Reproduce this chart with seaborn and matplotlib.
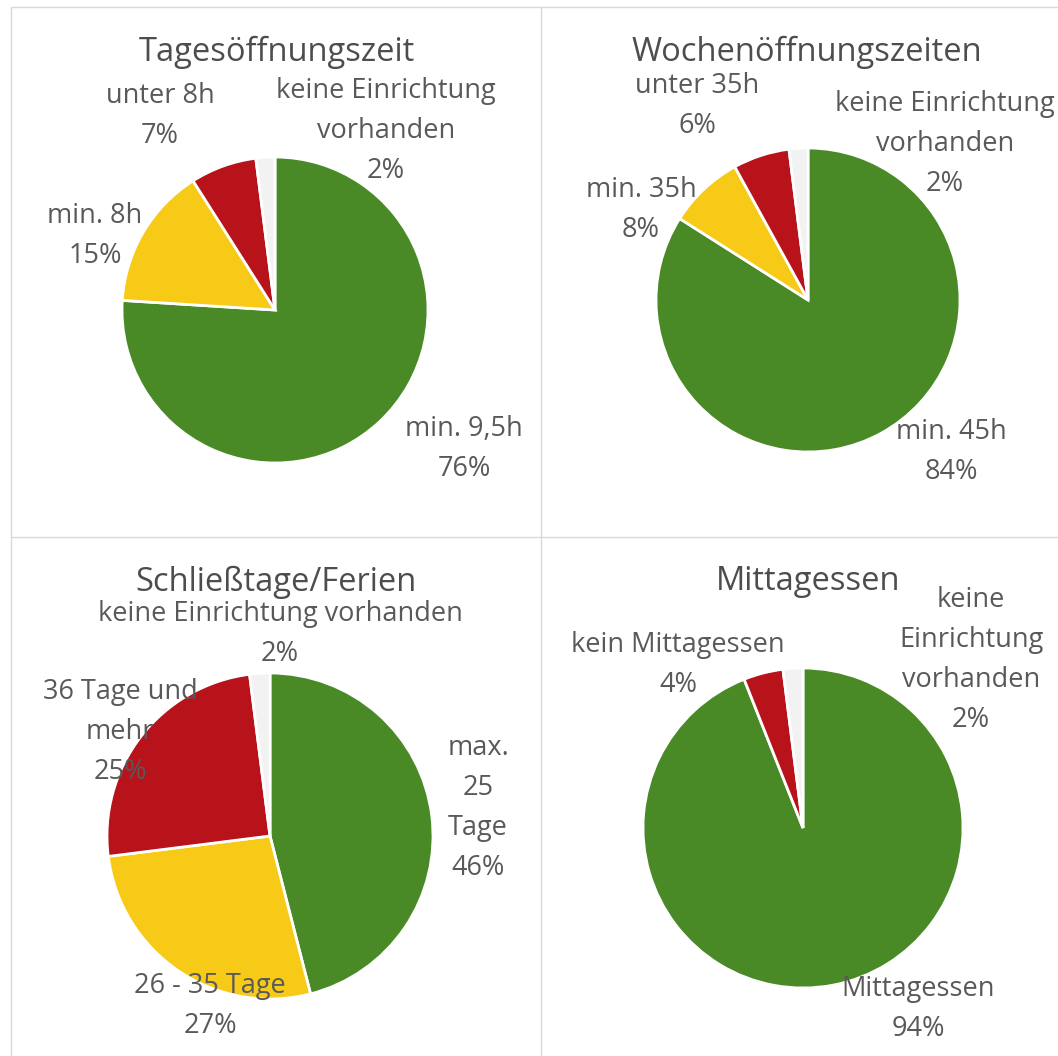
import matplotlib.pyplot as plt
import seaborn as sns

sns.set_theme(style="white")
plt.rcParams['font.family'] = ['Open Sans', 'DejaVu Sans']

# --- data ---
titles = ['Tagesöffnungszeit', 'Wochenöffnungszeiten', 'Schließtage/Ferien', 'Mittagessen']

tages_labels = ['min. 9,5h', 'min. 8h', 'unter 8h', 'keine Einrichtung\nvorhanden']
tages_values = [76, 15, 7, 2]

wochen_labels = ['min. 45h', 'min. 35h', 'unter 35h', 'keine Einrichtung\nvorhanden']
wochen_values = [84, 8, 6, 2]

schliess_labels = ['max.\n25\nTage', '26 - 35 Tage', '36 Tage und\nmehr', 'keine Einrichtung vorhanden']
schliess_values = [46, 27, 25, 2]

essen_labels = ['Mittagessen', 'kein Mittagessen', 'keine\nEinrichtung\nvorhanden']
essen_values = [94, 4, 2]

GREEN, YELLOW, RED, GREY = '#4A8A26', '#F6CA16', '#B8121B', '#F2F2F2'
TEXT = '#595959'

# --- layout (pixel positions, y measured from top) ---
W, H = 1058, 1056
panels = [
    dict(labels=tages_labels, values=tages_values, colors=[GREEN, YELLOW, RED, GREY],
         center=(275, 310), r=153, title=(277, 52),
         label_pos=[(464, 449), (95, 236), (160, 116), (386, 131)]),
    dict(labels=wochen_labels, values=wochen_values, colors=[GREEN, YELLOW, RED, GREY],
         center=(808, 300), r=152, title=(807, 52),
         label_pos=[(951, 452), (641, 210), (697, 106), (945, 144)]),
    dict(labels=schliess_labels, values=schliess_values, colors=[GREEN, YELLOW, RED, GREY],
         center=(270, 836), r=163, title=(276, 582),
         label_pos=[(478, 808), (210, 1006), (120, 732), (280, 634)]),
    dict(labels=essen_labels, values=essen_values, colors=[GREEN, RED, GREY],
         center=(803, 828), r=160, title=(808, 582),
         label_pos=[(918, 1009), (678, 665), (971, 660)]),
]

fig = plt.figure(figsize=(W / 100, H / 100), dpi=100)
ax = fig.add_axes([0, 0, 1, 1])

# panel borders
border = '#D9D9D9'
ax.plot([11, 11], [0, H - 7], color=border, lw=1)
ax.plot([541, 541], [0, H - 7], color=border, lw=1)
ax.plot([11, W], [H - 7, H - 7], color=border, lw=1)
ax.plot([11, W], [H - 537, H - 537], color=border, lw=1)

for title, p in zip(titles, panels):
    cx, cy = p['center']
    ax.pie(p['values'], colors=p['colors'], startangle=90, counterclock=False,
           center=(cx, H - cy), radius=p['r'], frame=True,
           wedgeprops=dict(edgecolor='white', linewidth=2))
    tx, ty = p['title']
    ax.text(tx, H - ty, title, ha='center', va='center', fontsize=23.5,
            color='#4D4D4D')
    for lab, val, (lx, ly) in zip(p['labels'], p['values'], p['label_pos']):
        ax.text(lx, H - ly, f'{lab}\n{val}%', ha='center', va='center',
                fontsize=19.5, color=TEXT, linespacing=1.58, multialignment='center')

ax.set_xlim(0, W)
ax.set_ylim(0, H)
ax.set_aspect('equal')
ax.axis('off')

fig.savefig('out.png', dpi=100, facecolor='white')
